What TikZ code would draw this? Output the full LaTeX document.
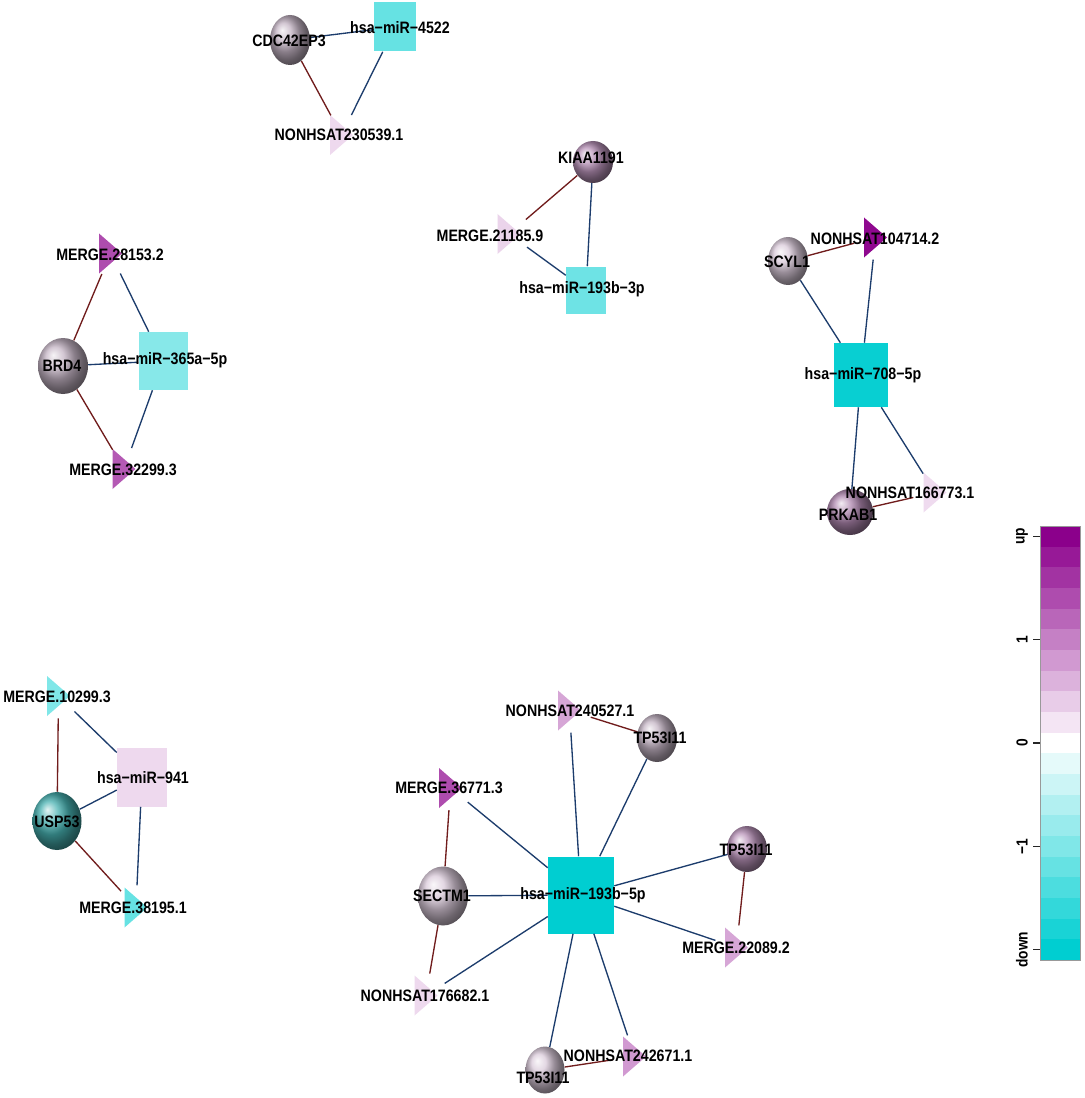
\documentclass[tikz,border=0pt]{standalone}
\usepackage{fontspec}
\setmainfont[FakeStretch=0.86]{Liberation Sans}
\usetikzlibrary{shapes.geometric,calc}
\definecolor{dm}{RGB}{139,0,139}
\definecolor{dt}{RGB}{0,206,209}
\definecolor{eblue}{RGB}{28,60,108}
\definecolor{ered}{RGB}{112,28,28}
\definecolor{sLav}{RGB}{196,180,196}
\definecolor{sLight}{RGB}{218,202,218}
\definecolor{sPur}{RGB}{184,146,184}
\definecolor{sDark}{RGB}{174,134,174}
\definecolor{sTeal}{RGB}{70,176,176}
\tikzset{
  lbl/.style={font=\bfseries\fontsize{12.4}{14}\selectfont, inner sep=0pt, text=black},
  sph/.style={ellipse, inner sep=0pt, shade, ball color=#1},
  sq/.style={rectangle, inner sep=0pt, fill=#1, draw=none},
  tgt/.style={circle, inner sep=0pt, minimum size=33pt},
  be/.style={draw=eblue, line width=1pt},
  re/.style={draw=ered, line width=1pt},
  leg/.style={font=\bfseries\fontsize{12}{14}\selectfont, inner sep=0pt, rotate=90},
}
\newcommand\mytri[4]{%
  \node[tgt] (#1) at (#2,#3) {};
  \fill[#4] ($(#1)+(-11.5,-20)$) -- ($(#1)+(11.5,0)$) -- ($(#1)+(-11.5,20)$) -- cycle;
}
\begin{document}
\begin{tikzpicture}[x=0.75pt,y=-0.75pt]
\fill[white] (0,0) rectangle (1084,1098);
\useasboundingbox (0,0) rectangle (1084,1098);

% ---------- cluster 1
\node[sph=sLav, minimum width=30pt, minimum height=37.5pt] (cdc) at (290,40) {};
\node[sq=dt!60!white, minimum width=31.5pt, minimum height=36.75pt] (m4522) at (395,27) {};
\mytri{n230539}{341.5}{135}{dm!15!white}
% ---------- cluster 2
\node[sph=sPur, minimum width=30pt, minimum height=31.5pt] (kiaa) at (593,162) {};
\node[sq=dt!57!white, minimum width=30pt, minimum height=35.25pt] (m193b3p) at (586,290) {};
\mytri{m21185}{509}{234}{dm!17!white}
% ---------- cluster 3
\node[sph=sLav, minimum width=37.5pt, minimum height=42pt] (brd4) at (63,366) {};
\node[sq=dt!47!white, minimum width=36.75pt, minimum height=43.5pt] (m365) at (163,361) {};
\mytri{m28153}{110.5}{253.5}{dm!70!white}
\mytri{m32299}{124}{469}{dm!65!white}
% ---------- cluster 4
\node[sph=sTeal, minimum width=36.75pt, minimum height=43.5pt] (usp53) at (57,821) {};
\node[sq=dm!15!white, minimum width=37.5pt, minimum height=44.25pt] (m941) at (142,777) {};
\mytri{m10299}{58.5}{696}{dt!50!white}
\mytri{m38195}{136}{907.5}{dt!60!white}
% ---------- cluster 5
\node[sph=sLight, minimum width=30pt, minimum height=36pt] (scyl1) at (788,261) {};
\node[sph=sDark, minimum width=34.5pt, minimum height=34.5pt] (prkab1) at (850,512) {};
\node[sq=dt!97!white, minimum width=40.5pt, minimum height=48pt] (m708) at (861,375) {};
\mytri{n104714}{875.5}{237.5}{dm!97!white}
\mytri{n166773}{935}{492.5}{dm!14!white}
% ---------- cluster 6
\node[sph=sLav, minimum width=30pt, minimum height=36pt] (tptop) at (657,738) {};
\node[sph=sLight, minimum width=37.5pt, minimum height=44.25pt] (sectm1) at (443,896) {};
\node[sph=sLight, minimum width=29.25pt, minimum height=35.25pt] (tpbot) at (545,1070) {};
\node[sph=sPur, minimum width=30pt, minimum height=34.5pt] (tpright) at (747,849) {};
\node[sq=dt, minimum width=49.5pt, minimum height=57.75pt] (m193b5p) at (581,895) {};
\mytri{n240527}{569.5}{710.5}{dm!35!white}
\mytri{m36771}{450.5}{788}{dm!70!white}
\mytri{n176682}{426}{995.5}{dm!15!white}
\mytri{n242671}{634.5}{1056.5}{dm!40!white}
\mytri{m22089}{736.5}{947.5}{dm!35!white}

% ---------- edges
\draw[be] (cdc) -- (m4522);
\draw[re] (cdc) -- (n230539);
\draw[be] (m4522) -- (n230539);

\draw[re] (kiaa) -- (m21185);
\draw[be] (kiaa) -- (m193b3p);
\draw[be] (m21185) -- (m193b3p);

\draw[re] (brd4) -- (m28153);
\draw[be] (brd4) -- (m365);
\draw[re] (brd4) -- (m32299);
\draw[be] (m28153) -- (m365);
\draw[be] (m365) -- (m32299);

\draw[re] (m10299) -- (usp53);
\draw[be] (m10299) -- (m941);
\draw[be] (usp53) -- (m941);
\draw[re] (usp53) -- (m38195);
\draw[be] (m941) -- (m38195);

\draw[re] (scyl1) -- (n104714);
\draw[be] (scyl1) -- (m708);
\draw[be] (n104714) -- (m708);
\draw[be] (m708) -- (prkab1);
\draw[be] (m708) -- (n166773);
\draw[re] (prkab1) -- (n166773);

\draw[re] (n240527) -- (tptop);
\draw[be] (n240527) -- (m193b5p);
\draw[be] (tptop) -- (m193b5p);
\draw[be] (m36771) -- (m193b5p);
\draw[re] (m36771) -- (sectm1);
\draw[be] (sectm1) -- (m193b5p);
\draw[re] (sectm1) -- (n176682);
\draw[be] (n176682) -- (m193b5p);
\draw[be] (m193b5p) -- (tpbot);
\draw[be] (m193b5p) -- (n242671);
\draw[be] (m193b5p) -- (tpright);
\draw[be] (m193b5p) -- (m22089);
\draw[re] (tpright) -- (m22089);
\draw[re] (tpbot) -- (n242671);

% ---------- labels
\node[lbl] (l-cdc) at (289,41) {CDC42EP3};
\node[lbl] (l-m4522) at (400,28) {hsa−miR−4522};
\node[lbl] (l-n230539) at (339,135) {NONHSAT230539.1};
\node[lbl] (l-kiaa) at (591,158) {KIAA1191};
\node[lbl] (l-m21185) at (490,236) {MERGE.21185.9};
\node[lbl] (l-m193b3p) at (582,289) {hsa−miR−193b−3p};
\node[lbl] (l-m28153) at (110,255) {MERGE.28153.2};
\node[lbl] (l-brd4) at (62,366) {BRD4};
\node[lbl] (l-m365) at (165,360) {hsa−miR−365a−5p};
\node[lbl] (l-m32299) at (123,470) {MERGE.32299.3};
\node[lbl] (l-m10299) at (57,697) {MERGE.10299.3};
\node[lbl] (l-m941) at (143,778) {hsa−miR−941};
\node[lbl] (l-usp53) at (57,822) {USP53};
\node[lbl] (l-m38195) at (133,908) {MERGE.38195.1};
\node[lbl] (l-scyl1) at (787,262) {SCYL1};
\node[lbl] (l-n104714) at (875,239) {NONHSAT104714.2};
\node[lbl] (l-m708) at (863,375) {hsa−miR−708−5p};
\node[lbl] (l-prkab1) at (848,515) {PRKAB1};
\node[lbl] (l-n166773) at (910,493) {NONHSAT166773.1};
\node[lbl] (l-n240527) at (570,711) {NONHSAT240527.1};
\node[lbl] (l-tptop) at (660,738) {TP53I11};
\node[lbl] (l-m36771) at (449,788) {MERGE.36771.3};
\node[lbl] (l-sectm1) at (442,896) {SECTM1};
\node[lbl] (l-m193b5p) at (583,895) {hsa−miR−193b−5p};
\node[lbl] (l-tpright) at (746,850) {TP53I11};
\node[lbl] (l-m22089) at (736,948) {MERGE.22089.2};
\node[lbl] (l-n176682) at (425,996) {NONHSAT176682.1};
\node[lbl] (l-tpbot) at (543,1078) {TP53I11};
\node[lbl] (l-n242671) at (628,1056) {NONHSAT242671.1};

% ---------- legend
\foreach \i in {0,...,9}{
  \pgfmathtruncatemacro\k{100-10*\i}
  \fill[dm!\k!white] (1040,{526+\i*20.667}) rectangle (1080,{526+(\i+1)*20.667});
}
\fill[white] (1040,{526+10*20.667}) rectangle (1080,{526+11*20.667});
\foreach \i in {11,...,20}{
  \pgfmathtruncatemacro\k{10*(\i-10)}
  \fill[dt!\k!white] (1040,{526+\i*20.667}) rectangle (1080,{526+(\i+1)*20.667});
}
\draw[gray!80, line width=0.6pt] (1040,526) rectangle (1080,960);
\foreach \y in {536.3,639.7,743,846.3,949.7}{
  \draw[black!85, line width=0.8pt] (1033,\y) -- (1040,\y);
}
\node[leg] (g-up) at (1022,536.3) {up};
\node[leg] (g-one) at (1022,639.7) {1};
\node[leg] (g-zero) at (1022,743) {0};
\node[leg] (g-mone) at (1022,846.3) {−1};
\node[leg] (g-down) at (1022,949.7) {down};
\end{tikzpicture}
\end{document}
